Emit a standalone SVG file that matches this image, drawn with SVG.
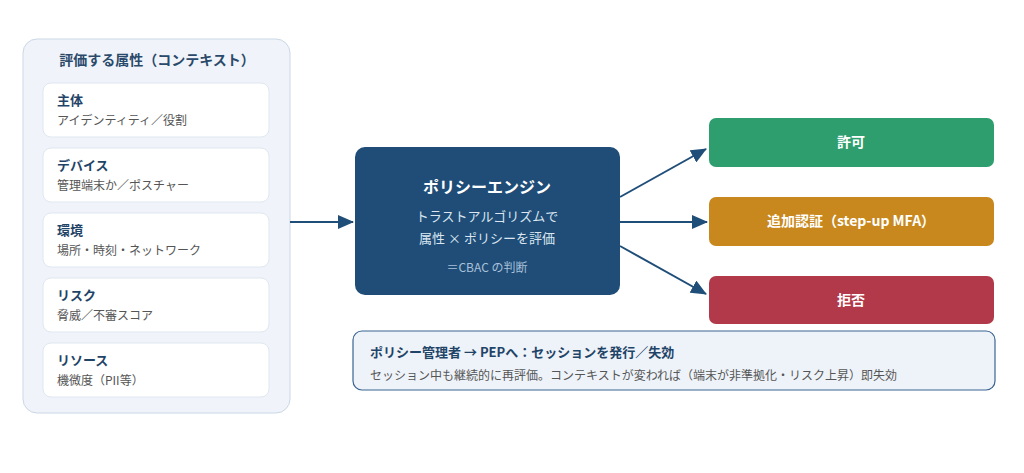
<svg xmlns="http://www.w3.org/2000/svg" width="1024" height="473" viewBox="0 0 1024 473">
<style>
text{font-family:"Noto Sans CJK JP","Noto Sans",sans-serif}
.panel{fill:#f0f4fa;stroke:#cad7e7;stroke-width:1}
.card{fill:#fff;stroke:#dfe7f1;stroke-width:1}
.ptitle{font-size:14px;font-weight:700;fill:#2b4a6b}
.ctitle{font-size:13px;font-weight:700;fill:#1f4468}
.csub{font-size:12px;fill:#555}
.conn{stroke:#1f4e79;stroke-width:2;fill:none}
.otext{font-size:14px;font-weight:700;fill:#fff}
</style>
<defs>
<marker id="ah" viewBox="0 0 16 14" refX="15" refY="7" markerWidth="16" markerHeight="14" markerUnits="userSpaceOnUse" orient="auto">
<path d="M0,0 L16,7 L0,14 z" fill="#1f4e79"/>
</marker>
</defs>
<rect width="1024" height="473" fill="#fff"/>
<g id="attributes">
<rect class="panel" x="23" y="39" width="267" height="374" rx="14"/>
<text class="ptitle" x="157" y="65" text-anchor="middle">評価する属性（コンテキスト）</text>
</g>
<g id="attr-subject">
<rect class="card" x="43" y="83" width="226" height="54" rx="8"/>
<text class="ctitle" x="57" y="105">主体</text>
<text class="csub" x="57" y="125">アイデンティティ／役割</text>
</g>
<g id="attr-device">
<rect class="card" x="43" y="148" width="226" height="54" rx="8"/>
<text class="ctitle" x="57" y="170">デバイス</text>
<text class="csub" x="57" y="190">管理端末か／ポスチャー</text>
</g>
<g id="attr-env">
<rect class="card" x="43" y="213" width="226" height="54" rx="8"/>
<text class="ctitle" x="57" y="235">環境</text>
<text class="csub" x="57" y="255">場所・時刻・ネットワーク</text>
</g>
<g id="attr-risk">
<rect class="card" x="43" y="278" width="226" height="54" rx="8"/>
<text class="ctitle" x="57" y="300">リスク</text>
<text class="csub" x="57" y="320">脅威／不審スコア</text>
</g>
<g id="attr-resource">
<rect class="card" x="43" y="343" width="226" height="54" rx="8"/>
<text class="ctitle" x="57" y="365">リソース</text>
<text class="csub" x="57" y="385">機微度（PII等）</text>
</g>
<g id="engine">
<rect x="355" y="147" width="265" height="148" rx="10" fill="#1f4d77"/>
<text x="487" y="193" text-anchor="middle" font-size="16" font-weight="700" fill="#fff">ポリシーエンジン</text>
<text x="487" y="221" text-anchor="middle" font-size="13" fill="#dbe6f1">トラストアルゴリズムで</text>
<text x="487" y="243" text-anchor="middle" font-size="13" fill="#dbe6f1">属性 × ポリシーを評価</text>
<text x="487" y="272" text-anchor="middle" font-size="12" fill="#a9c1da">＝CBAC の判断</text>
</g>
<g id="allow">
<rect x="709" y="118" width="285" height="49" rx="7" fill="#2e9e6f"/>
<text class="otext" x="851" y="147" text-anchor="middle">許可</text>
</g>
<g id="mfa">
<rect x="709" y="197" width="285" height="49" rx="7" fill="#c8881d"/>
<text class="otext" x="851" y="226" text-anchor="middle">追加認証（step-up MFA）</text>
</g>
<g id="deny">
<rect x="709" y="276" width="285" height="48" rx="7" fill="#b2394a"/>
<text class="otext" x="851" y="305" text-anchor="middle">拒否</text>
</g>
<g id="note">
<rect x="353" y="331" width="642" height="59" rx="9" fill="#eef3f9" stroke="#3b6592" stroke-width="1.2"/>
<text x="370" y="357" font-size="13" font-weight="700" fill="#1f4468">ポリシー管理者 → PEPへ：セッションを発行／失効</text>
<text x="370" y="380" font-size="12" fill="#555">セッション中も継続的に再評価。コンテキストが変われば（端末が非準拠化・リスク上昇）即失効</text>
</g>
<g id="connectors">
<line class="conn" x1="290" y1="222" x2="353" y2="222" marker-end="url(#ah)"/>
<line class="conn" x1="620" y1="197" x2="706" y2="149" marker-end="url(#ah)"/>
<line class="conn" x1="620" y1="222" x2="707" y2="222" marker-end="url(#ah)"/>
<line class="conn" x1="620" y1="246" x2="706" y2="294" marker-end="url(#ah)"/>
</g>
</svg>
